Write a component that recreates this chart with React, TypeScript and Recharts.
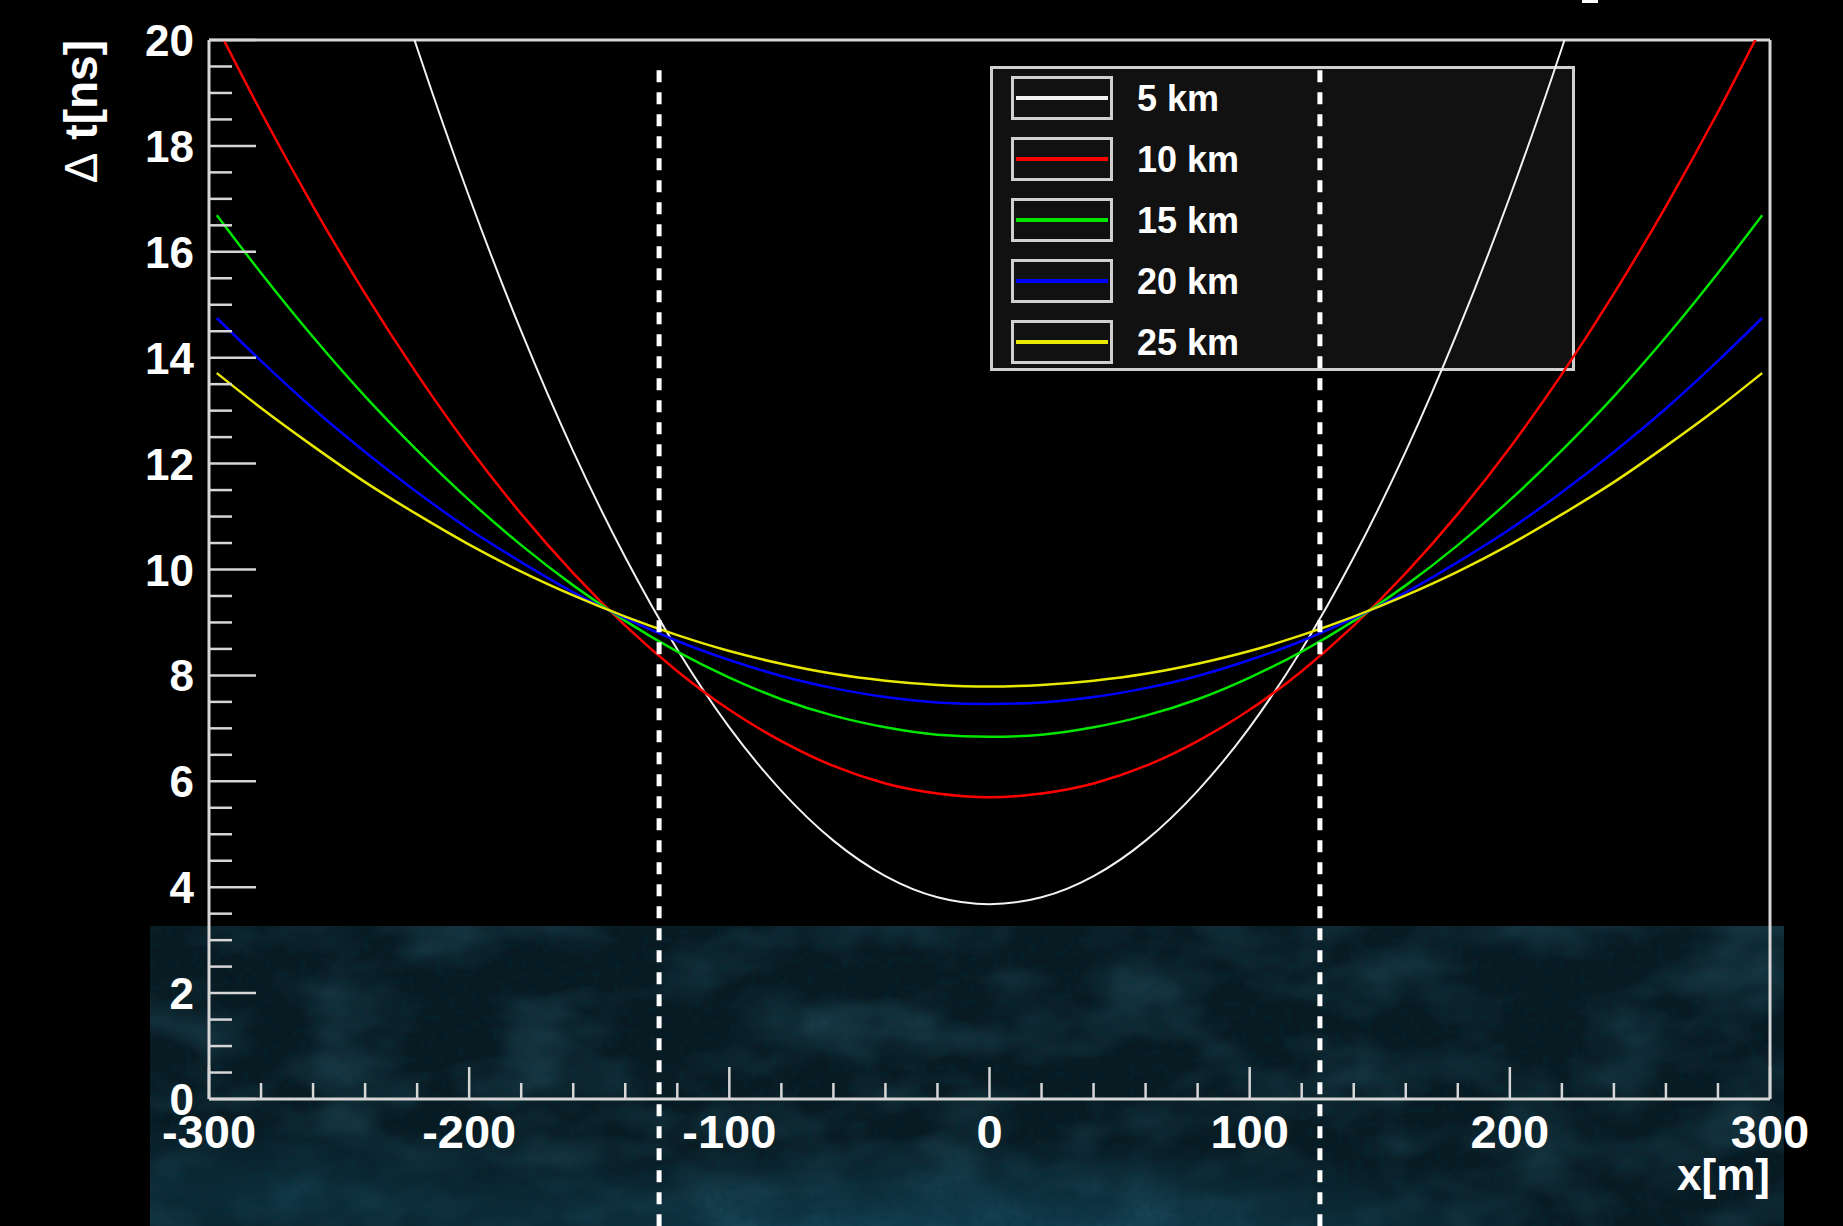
import React from "react";
import { LineChart, Line, XAxis, YAxis, ReferenceLine } from "recharts";

// horizontal offset from the array centre, metres
const xPos = [
	-297, -280, -260, -240, -220, -200, -180, -160, -140, -120, -100, -80, -60, -40, -20, 0,
	20, 40, 60, 80, 100, 120, 140, 160, 180, 200, 220, 240, 260, 280, 297,
];

// arrival time delay in ns for each source height
const dt5km = [
	null, null, null, 22.92, 19.85, 17.04, 14.5, 12.23, 10.23, 8.49, 7.02, 5.82, 4.88, 4.21, 3.81, 3.68,
	3.81, 4.21, 4.88, 5.82, 7.02, 8.49, 10.23, 12.23, 14.5, 17.04, 19.85, 22.92, null, null, null,
];
const dt10km = [
	20.26, 18.64, 16.86, 15.21, 13.69, 12.3, 11.05, 9.93, 8.94, 8.08, 7.35, 6.76, 6.29, 5.96, 5.77, 5.7,
	5.77, 5.96, 6.29, 6.76, 7.35, 8.08, 8.94, 9.93, 11.05, 12.3, 13.69, 15.21, 16.86, 18.64, 20.26,
];
const dt15km = [
	16.69, 15.6, 14.39, 13.27, 12.25, 11.31, 10.46, 9.7, 9.03, 8.45, 7.96, 7.55, 7.24, 7.02, 6.88, 6.84,
	6.88, 7.02, 7.24, 7.55, 7.96, 8.45, 9.03, 9.7, 10.46, 11.31, 12.25, 13.27, 14.39, 15.6, 16.69,
];
const dt20km = [
	14.75, 13.94, 13.04, 12.22, 11.46, 10.76, 10.14, 9.57, 9.08, 8.65, 8.29, 7.99, 7.76, 7.59, 7.49, 7.46,
	7.49, 7.59, 7.76, 7.99, 8.29, 8.65, 9.08, 9.57, 10.14, 10.76, 11.46, 12.22, 13.04, 13.94, 14.75,
];
const dt25km = [
	13.71, 13.05, 12.33, 11.65, 11.04, 10.47, 9.96, 9.51, 9.11, 8.76, 8.46, 8.22, 8.03, 7.9, 7.82, 7.79,
	7.82, 7.9, 8.03, 8.22, 8.46, 8.76, 9.11, 9.51, 9.96, 10.47, 11.04, 11.65, 12.33, 13.05, 13.71,
];

const series = [
	{ key: "h5", label: "5 km", color: "#f2f2f2", values: dt5km, width: 2 },
	{ key: "h10", label: "10 km", color: "#ff0000", values: dt10km, width: 2.5 },
	{ key: "h15", label: "15 km", color: "#00e600", values: dt15km, width: 2.5 },
	{ key: "h20", label: "20 km", color: "#0000ff", values: dt20km, width: 2.5 },
	{ key: "h25", label: "25 km", color: "#e8e800", values: dt25km, width: 2.5 },
];

// acceptance window edges
const cutEdges = [-127, 127];

const xMajor = [-300, -200, -100, 0, 100, 200, 300];
const yMajor = [0, 2, 4, 6, 8, 10, 12, 14, 16, 18, 20];

const xTicks: number[] = [];
for (let v = -300; v <= 300; v += 20) xTicks.push(v);
const yTicks: number[] = [];
for (let v = 0; v <= 20; v += 0.5) yTicks.push(v);

const rows = xPos.map((x, i) => {
	const row: Record<string, number | null> = { x };
	series.forEach((s) => {
		row[s.key] = s.values[i];
	});
	return row;
});

const W = 1843;
const H = 1226;
const FONT = "'Liberation Sans', Arial, Helvetica, sans-serif";
const AXIS = "#d6d6d6";

function YTick(props: any) {
	const { x, y, payload } = props;
	const major = yMajor.includes(payload.value);
	return (
		<g>
			<line x1={x} y1={y} x2={x + (major ? 47 : 23)} y2={y} stroke={AXIS} strokeWidth={2.5} />
			{major && (
				<text
					x={x - 15}
					y={y + 16}
					textAnchor="end"
					fill="#ffffff"
					fontSize={44}
					fontWeight="bold"
					fontFamily={FONT}
				>
					{payload.value}
				</text>
			)}
		</g>
	);
}

function XTick(props: any) {
	const { x, y, payload } = props;
	const major = xMajor.includes(payload.value);
	return (
		<g>
			<line x1={x} y1={y} x2={x} y2={y - (major ? 32 : 16)} stroke={AXIS} strokeWidth={2.5} />
			{major && (
				<text
					x={x}
					y={y + 49}
					textAnchor="middle"
					fill="#ffffff"
					fontSize={47}
					fontWeight="bold"
					fontFamily={FONT}
				>
					{payload.value}
				</text>
			)}
		</g>
	);
}

function Backdrop() {
	return (
		<svg width={W} height={H} style={{ position: "absolute", left: 0, top: 0 }}>
			<defs>
				<radialGradient id="glowMid" cx="0.5" cy="1.1" r="0.4">
					<stop offset="0" stopColor="#1a5a74" stopOpacity={0.7} />
					<stop offset="1" stopColor="#1a5a74" stopOpacity={0} />
				</radialGradient>
				<radialGradient id="glowLeft" cx="0.08" cy="0.9" r="0.25">
					<stop offset="0" stopColor="#134a60" stopOpacity={0.4} />
					<stop offset="1" stopColor="#134a60" stopOpacity={0} />
				</radialGradient>
				<filter id="grainCoarse" x="0" y="0" width="1" height="1">
					<feTurbulence type="fractalNoise" baseFrequency="0.01 0.018" numOctaves={3} seed={4} />
					<feColorMatrix
						type="matrix"
						values="0 0 0 0 0.05  0 0 0 0 0.22  0 0 0 0 0.3  1.1 0 0 0 -0.45"
					/>
				</filter>
				<filter id="grainFine" x="0" y="0" width="1" height="1">
					<feTurbulence type="fractalNoise" baseFrequency="0.14" numOctaves={2} seed={11} />
					<feColorMatrix
						type="matrix"
						values="0 0 0 0 0.0  0 0 0 0 0.03  0 0 0 0 0.05  -1.6 0 0 0 0.9"
					/>
				</filter>
			</defs>
			<rect x={0} y={0} width={W} height={H} fill="#000000" />
			<rect x={150} y={926} width={1634} height={300} fill="#081a22" />
			<rect x={150} y={926} width={1634} height={300} filter="url(#grainCoarse)" opacity={0.6} />
			<rect x={150} y={926} width={1634} height={300} fill="url(#glowLeft)" />
			<rect x={150} y={926} width={1634} height={300} fill="url(#glowMid)" />
			<rect x={150} y={926} width={1634} height={300} filter="url(#grainFine)" opacity={0.5} />
			<rect x={1582} y={0} width={16} height={3} fill="#ffffff" />
		</svg>
	);
}

function HeightLegend() {
	return (
		<div
			style={{
				position: "absolute",
				left: 990,
				top: 66,
				width: 585,
				height: 305,
				boxSizing: "border-box",
				background: "#111111",
				border: "3px solid #d0d0d0",
				fontFamily: FONT,
			}}
		>
			{series.map((s, i) => (
				<div key={s.key} style={{ position: "absolute", left: 18, top: 7 + i * 61, height: 44, width: 400 }}>
					<div
						style={{
							position: "absolute",
							left: 0,
							top: 0,
							width: 102,
							height: 44,
							boxSizing: "border-box",
							border: "3px solid #d0d0d0",
						}}
					>
						<div
							style={{
								position: "absolute",
								left: 2,
								right: 2,
								top: 17,
								height: 4,
								background: s.color,
							}}
						/>
					</div>
					<span
						style={{
							position: "absolute",
							left: 126,
							top: 1,
							lineHeight: "44px",
							fontSize: 36,
							fontWeight: "bold",
							color: "#ffffff",
							whiteSpace: "nowrap",
						}}
					>
						{s.label}
					</span>
				</div>
			))}
		</div>
	);
}

export default function App() {
	return (
		<div style={{ position: "absolute", left: 0, top: 0, width: W, height: H, overflow: "hidden" }}>
			<Backdrop />
			<HeightLegend />
			<div style={{ position: "absolute", left: 0, top: 0 }}>
				<LineChart width={W} height={H} data={rows} margin={{ top: 40, right: 73, bottom: 67, left: 149 }}>
					<XAxis
						dataKey="x"
						type="number"
						domain={[-300, 300]}
						ticks={xTicks}
						interval={0}
						height={60}
						tickSize={0}
						tickMargin={0}
						tickLine={false}
						axisLine={{ stroke: AXIS, strokeWidth: 3 }}
						tick={<XTick />}
					/>
					<YAxis
						type="number"
						domain={[0, 20]}
						ticks={yTicks}
						interval={0}
						allowDataOverflow
						width={60}
						tickSize={0}
						tickMargin={0}
						tickLine={false}
						axisLine={{ stroke: AXIS, strokeWidth: 3 }}
						tick={<YTick />}
					/>
					<ReferenceLine y={20} stroke={AXIS} strokeWidth={3} />
					<ReferenceLine x={300} stroke={AXIS} strokeWidth={3} />
					{series.map((s) => (
						<Line
							key={s.key}
							type="monotone"
							dataKey={s.key}
							name={s.label}
							stroke={s.color}
							strokeWidth={s.width}
							dot={false}
							activeDot={false}
							isAnimationActive={false}
						/>
					))}
					{cutEdges.map((xc) => (
						<ReferenceLine
							key={xc}
							segment={[
								{ x: xc, y: 19.43 },
								{ x: xc, y: -2.45 },
							]}
							ifOverflow="visible"
							stroke="#ffffff"
							strokeWidth={5}
							strokeDasharray="12 10"
						/>
					))}
					<text
						transform="translate(97,40) rotate(-90)"
						textAnchor="end"
						fill="#ffffff"
						fontSize={46}
						fontWeight="bold"
						fontFamily={FONT}
					>
						<tspan fontWeight="normal">Δ</tspan> t[ns]
					</text>
					<text x={1770} y={1190} textAnchor="end" fill="#ffffff" fontSize={44} fontWeight="bold" fontFamily={FONT}>
						x[m]
					</text>
				</LineChart>
			</div>
		</div>
	);
}
